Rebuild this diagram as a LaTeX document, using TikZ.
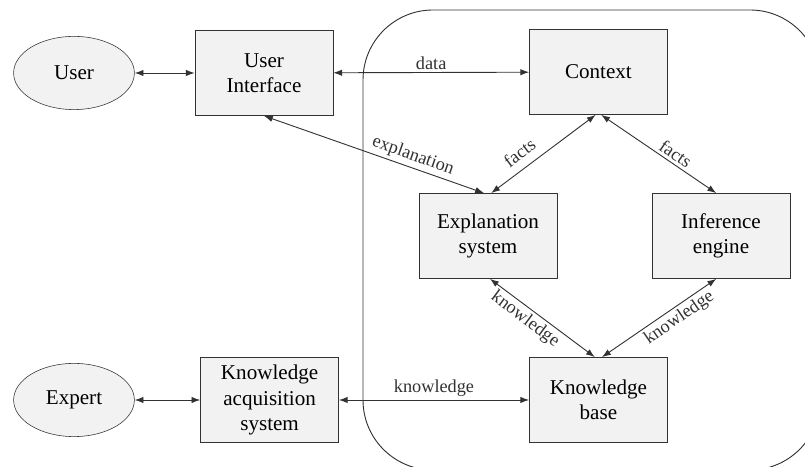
\documentclass[tikz,border=0pt]{standalone}
\usepackage{fontspec}
\setmainfont{Liberation Serif}
\definecolor{boxgray}{RGB}{242,242,242}
\definecolor{linegray}{RGB}{50,50,50}
\usetikzlibrary{arrows.meta,shapes.geometric}

\begin{document}
\begin{tikzpicture}[
      arr/.style={{Latex[length=2.2mm,width=1.6mm]}-{Latex[length=2.2mm,width=1.6mm]}, linegray, line width=0.65pt},
      unit/.style={draw=linegray, fill=boxgray, align=center, inner sep=2pt,
                   font=\fontsize{15}{18}\selectfont,
                   minimum width=3.45cm, minimum height=2.13cm},
      actor/.style={ellipse, draw=linegray, fill=boxgray, inner sep=0pt,
                    font=\fontsize{15}{18}\selectfont,
                    minimum width=3.02cm, minimum height=1.83cm},
      lbl/.style={font=\fontsize{13}{15}\selectfont, inner sep=2pt}
    ]
    \useasboundingbox (0,0) rectangle (20.125,11.675);

    % the system boundary runs off the page on the right and at the bottom
    \begin{scope}
      \clip (0,0) rectangle (20.125,11.675);
      \draw[linegray, line width=0.65pt, rounded corners=1.75cm]
        (9.075,-0.075) rectangle (20.5,11.425);
    \end{scope}

    \node[actor] (user) at (1.85,9.85) {User};
    \node[actor] (expert) at (1.85,1.675) {Expert};
    \node[unit] (ui) at (6.6,9.85) {User\\Interface};
    \node[unit] (kas) at (6.74,1.675) {Knowledge\\acquisition\\system};
    \node[unit] (ctx) at (14.96,9.875) {Context};
    \node[unit] (expl) at (12.2,5.775) {Explanation\\system};
    \node[unit] (inf) at (18.025,5.775) {Inference\\engine};
    \node[unit] (kb) at (14.96,1.675) {Knowledge\\base};

    \draw[arr] (user)--(ui);
    \draw[arr] (expert)--(kas);
    \draw[arr] (ui)--node[lbl, above]{data}(ctx);
    \draw[arr] (kas)--node[lbl, above]{knowledge}(kb);
    \draw[arr] (ui.south)--node[lbl, sloped, above, pos=0.66]{explanation}([xshift=-0.1cm]expl.north);
    \draw[arr] ([xshift=0.08cm]expl.north)--node[lbl, sloped, above=4pt, pos=0.36]{facts}([xshift=-0.07cm]ctx.south);
    \draw[arr] ([xshift=0.07cm]ctx.south)--node[lbl, sloped, above, pos=0.6]{facts}([xshift=-0.12cm]inf.north);
    \draw[arr] ([xshift=0.05cm]expl.south)--node[lbl, sloped, below, pos=0.4]{knowledge}([xshift=-0.09cm]kb.north);
    \draw[arr] ([xshift=0.09cm]kb.north)--node[lbl, sloped, below, pos=0.62]{knowledge}([xshift=-0.12cm]inf.south);
  \end{tikzpicture}
\end{document}
